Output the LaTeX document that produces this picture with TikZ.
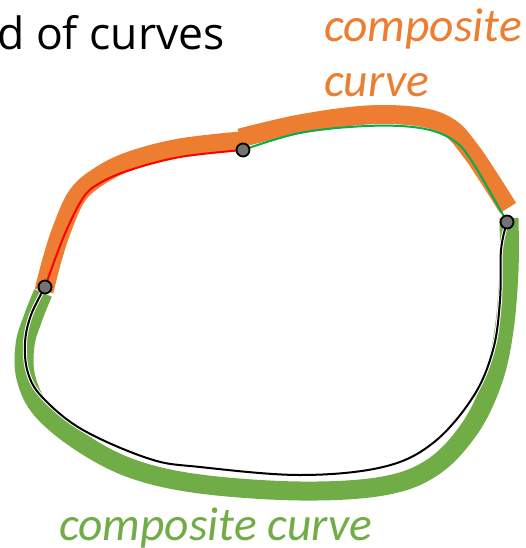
\documentclass[tikz,border=0pt]{standalone}
\usepackage{fontspec}
\setmainfont{Carlito}
\newfontfamily\titlefont{Open Sans}
\usepackage{tikz}
\definecolor{bandorange}{HTML}{ED7D31}
\definecolor{bandgreen}{HTML}{70AD47}
\definecolor{linegreen}{HTML}{00B050}
\tikzset{
  knot/.style={circle,draw=black,line width=1.8pt,fill=black!55,inner sep=0pt,minimum size=13pt},
  band/.style={line width=19pt,line cap=butt},
  seg/.style={line width=2pt},
  lbl/.style={font=\titlefont\fontsize{44.5}{52}\selectfont,inner sep=0pt},
  itlbl/.style={font=\fontsize{47.5}{55}\selectfont\itshape,inner sep=0pt}
}

\begin{document}
\begin{tikzpicture}[x=1pt,y=-1pt]
  \useasboundingbox (0,0) rectangle (526,548);
  \coordinate (p1) at (45,287);
  \coordinate (p2) at (243,150);
  \coordinate (p3) at (507,222);

  \draw[band,bandgreen] plot[smooth,tension=0.6] coordinates {(43,293) (33,318) (25,345) (26,378) (42,410) (82,443) (133,469) (200,484) (300,491) (383,486) (433,467) (470,428) (493,380) (504,330) (509,270) (509,218)};
  \draw[band,bandorange] plot[smooth,tension=0.6] coordinates {(44,291) (52,260) (62,229) (77,196) (98,177) (130,161) (180,148) (241,141)};
  \draw[band,bandorange] plot[smooth,tension=0.6] coordinates {(240,138) (300,124) (367,115) (420,117) (450,128) (470,150) (489,178) (508,208)};

  \draw[white,line width=4pt] plot[smooth,tension=0.6] coordinates {(p1) (31,315) (25,343) (28,373) (43,398) (83,430) (150,459) (200,467) (300,475) (383,467) (433,443) (473,397) (493,350) (500,300) (501,250) (p3)};
  \draw[seg] plot[smooth,tension=0.6] coordinates {(p1) (31,315) (25,343) (28,373) (43,398) (83,430) (150,459) (200,467) (300,475) (383,467) (433,443) (473,397) (493,350) (500,300) (501,250) (p3)};
  \draw[seg,red] plot[smooth,tension=0.6] coordinates {(p1) (64,236) (83,198) (100,183) (130,170) (180,157) (p2)};
  \draw[seg,linegreen] plot[smooth,tension=0.6] coordinates {(p2) (300,133) (367,126) (420,128) (453,140) (473,163) (p3)};

  \node[knot] (k1) at (p1) {};
  \node[knot] (k2) at (p2) {};
  \node[knot] (k3) at (p3) {};

  \node[lbl,anchor=base west] (title) at (-3,50) {d of curves};
  \node[itlbl,anchor=base west,text=bandorange,align=left] (toplbl) at (324,97) {composite\\curve};
  \node[itlbl,anchor=base west,text=bandgreen] (botlbl) at (59,540) {composite curve};
\end{tikzpicture}
\end{document}
